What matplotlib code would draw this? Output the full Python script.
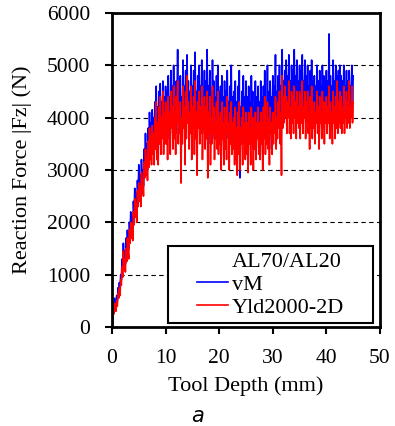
import numpy as np
import matplotlib
matplotlib.use("Agg")
import matplotlib.pyplot as plt
from matplotlib.patches import Rectangle

# tool depth (mm), one sample every 0.125 mm
depth = np.arange(1, 361) * 0.125

force_vm = [
    150, 400, 300, 550, 450, 350, 600, 500, 750, 650, 850, 700, 1000, 900, 1300, 1100, 1600, 1250, 1450, 1200,
    1700, 1400, 1850, 1600, 1500, 2000, 1750, 2200, 1900, 2100, 1800, 2400, 2150, 2650, 2300, 2550, 2200, 2800, 2500, 3100,
    2600, 2900, 2500, 3200, 2800, 3000, 2700, 3400, 3100, 3700, 3200, 3500, 3000, 3800, 3300, 4100, 3500, 3900, 3400, 4150,
    3600, 4000, 3500, 4300, 3800, 4600, 3700, 4200, 3400, 4500, 3900, 4650, 3600, 4300, 4000, 4700, 3700, 4400, 3800, 4600,
    3900, 4500, 3600, 4800, 4100, 4400, 3700, 4900, 4200, 4600, 3800, 5000, 4000, 4500, 3700, 4700, 4300, 5300, 3900, 4600,
    4100, 4800, 3600, 4400, 3900, 5100, 4200, 4600, 3500, 4900, 4000, 5200, 4300, 4700, 3800, 4500, 4100, 5000, 3700, 4600,
    4200, 4900, 3800, 5250, 4000, 4500, 3600, 4800, 4300, 5000, 3900, 4600, 4100, 5100, 3700, 4400, 4200, 4900, 3800, 4700,
    4000, 5300, 3700, 4600, 4200, 4900, 3500, 4500, 3900, 5100, 4100, 4700, 3600, 4400, 4000, 4800, 3800, 5000, 3700, 4500,
    3900, 4600, 3500, 4800, 4000, 4400, 3400, 4700, 3800, 4500, 3600, 4900, 4100, 4300, 3500, 4600, 3900, 5000, 3700, 4400,
    3800, 4500, 3400, 4700, 3600, 4300, 3300, 4600, 3700, 4900, 2850, 4200, 3800, 4500, 3500, 4800, 3900, 4400, 3600, 4700,
    3700, 4400, 3300, 4600, 3800, 4300, 3500, 4800, 3900, 4500, 3400, 4200, 3700, 4700, 3500, 4400, 3900, 4600, 3600, 4300,
    3500, 4700, 3800, 4400, 3300, 4600, 3900, 4900, 3600, 4300, 3800, 5000, 3700, 4500, 3400, 4700, 4000, 4400, 3600, 4800,
    3800, 4600, 4000, 5200, 3700, 4500, 3900, 4800, 4200, 5000, 3800, 4600, 4300, 5300, 4000, 4700, 4100, 4900, 4300, 5100,
    4000, 4800, 4400, 5200, 4100, 4700, 3900, 5000, 4300, 4900, 4100, 5300, 4400, 4800, 4000, 5100, 4300, 4700, 4200, 5000,
    3900, 4900, 4300, 5200, 4100, 4700, 4400, 5100, 4000, 4800, 4300, 5000, 4100, 4600, 3800, 4900, 4200, 5100, 4000, 4700,
    4200, 4800, 3900, 4600, 4300, 5000, 4100, 4700, 3800, 4900, 4300, 4600, 4000, 5000, 4200, 4800, 3900, 4700, 4300, 4900,
    4100, 4700, 4300, 5600, 4000, 4800, 4200, 4600, 3900, 5100, 4300, 4700, 4000, 5000, 4200, 4800, 4100, 4900, 4400, 5000,
    4200, 4800, 4000, 4700, 4300, 5000, 4100, 4600, 4400, 4900, 4100, 4700, 4300, 4900, 4200, 4600, 4400, 5000, 4300, 4800,
]

force_yld = [
    100, 300, 250, 450, 350, 300, 500, 400, 650, 550, 750, 600, 900, 800, 1150, 950, 1450, 1100, 1300, 1050,
    1500, 1250, 1700, 1450, 1300, 1850, 1600, 2000, 1700, 1950, 1650, 2200, 1950, 2450, 2100, 2350, 2000, 2600, 2300, 2750,
    2400, 2700, 2300, 2950, 2550, 2800, 2500, 3150, 2850, 3400, 2900, 3250, 2800, 3550, 3050, 3800, 3200, 3650, 3100, 3850,
    3300, 3700, 3100, 4000, 3400, 4300, 3200, 3900, 3100, 4200, 3500, 4400, 3300, 4000, 3600, 4500, 3300, 4100, 3500, 4300,
    3500, 4200, 3200, 4400, 3700, 4100, 3300, 4500, 3800, 4200, 3400, 4600, 3600, 4100, 3300, 4400, 3900, 4700, 3500, 4200,
    3700, 4300, 2750, 4000, 3500, 4600, 3800, 4200, 3100, 4500, 3600, 4800, 3900, 4300, 3400, 4100, 3700, 4600, 3200, 4200,
    3800, 4400, 3300, 4700, 3600, 4100, 2900, 4300, 3800, 4500, 3500, 4200, 3700, 4600, 3200, 3900, 3800, 4400, 3400, 4200,
    3600, 4500, 2850, 4100, 3700, 4400, 3100, 4000, 3500, 4600, 3700, 4200, 3200, 3900, 3600, 4300, 3400, 4500, 3300, 4000,
    3500, 4100, 3000, 4300, 3600, 3900, 3100, 4200, 3400, 4000, 3200, 4400, 3700, 3900, 3000, 4100, 3500, 4300, 3300, 3900,
    3400, 4000, 3100, 4200, 3200, 3800, 2900, 4100, 3300, 4300, 3000, 3800, 3500, 4000, 3100, 4200, 3600, 3900, 3200, 4100,
    3300, 3900, 2950, 4100, 3500, 3800, 3100, 4200, 3500, 4000, 3000, 3800, 3400, 4100, 3200, 3900, 3600, 4200, 3300, 3900,
    3200, 4100, 3500, 3900, 3000, 4200, 3600, 4400, 3300, 3900, 3500, 4300, 3400, 4000, 3100, 4200, 3700, 3900, 3300, 4100,
    3500, 4100, 3700, 4400, 3400, 4000, 3600, 4300, 3800, 4500, 3500, 4100, 2900, 4800, 3800, 4400, 3900, 4600, 4000, 4400,
    3700, 4300, 4000, 4700, 3700, 4200, 3600, 4500, 3900, 4400, 3700, 4600, 4000, 4300, 3600, 4500, 3900, 4200, 3800, 4500,
    3600, 4400, 3900, 4700, 3700, 4200, 4000, 4500, 3600, 4300, 3900, 4500, 3700, 4100, 3400, 4400, 3800, 4600, 3600, 4200,
    3800, 4300, 3500, 4100, 3900, 4500, 3700, 4200, 3400, 4400, 3900, 4100, 3600, 4500, 3800, 4300, 3500, 4200, 3900, 4400,
    3700, 4200, 3900, 4600, 3600, 4300, 3800, 4100, 3500, 4500, 3900, 4200, 3600, 4400, 3800, 4700, 3700, 4300, 3900, 4500,
    3800, 4400, 3700, 4200, 3900, 4600, 3700, 4100, 4000, 4500, 3800, 4300, 3900, 4700, 3800, 4200, 4000, 4600, 3900, 4300,
]

plt.rcParams["font.family"] = ["Liberation Serif", "DejaVu Serif"]

fig = plt.figure(figsize=(3.95, 4.26), dpi=100)
ax = fig.add_axes([0.2835, 0.2324, 0.6785, 0.7371])

ax.plot([], [], color="none", label="AL70/AL20")
ax.plot(depth, force_vm, color="#0000ff", lw=1.2, label="vM")
ax.plot(depth, force_yld, color="#ff0000", lw=1.2, label="Yld2000-2D")

ax.set_xlim(0, 50)
ax.set_ylim(0, 6000)
ax.set_xticks(range(0, 51, 10))
ax.set_yticks(range(0, 6001, 1000))
for yv in range(1000, 6000, 1000):
    ax.axhline(yv, color="black", lw=0.8, ls=(0, (4, 3)), zorder=0)

for s in ax.spines.values():
    s.set_linewidth(2)
ax.tick_params(direction="out", length=5, width=1.5, labelsize=15.5, pad=10.5)

ax.set_xlabel("Tool Depth (mm)", fontsize=16, labelpad=6)
ax.set_ylabel("Reaction Force |Fz| (N)", fontsize=16, labelpad=11)

# legend box is wider than the text, so draw the frame separately
box = Rectangle((0.209, 0.013), 0.765, 0.245, transform=ax.transAxes,
                facecolor="white", edgecolor="black", lw=1.5, zorder=5)
ax.add_patch(box)
leg = ax.legend(loc="center", bbox_to_anchor=(0.5915, 0.1355), fontsize=16,
                frameon=False, handlelength=1.4, handletextpad=0.2,
                borderpad=0.0, labelspacing=0.1)
leg.set_zorder(6)

fig.text(0.501, 0.0235, "a", fontsize=15, style="italic", family="DejaVu Sans",
         ha="center", va="center")

fig.savefig("out.png", dpi=100)
